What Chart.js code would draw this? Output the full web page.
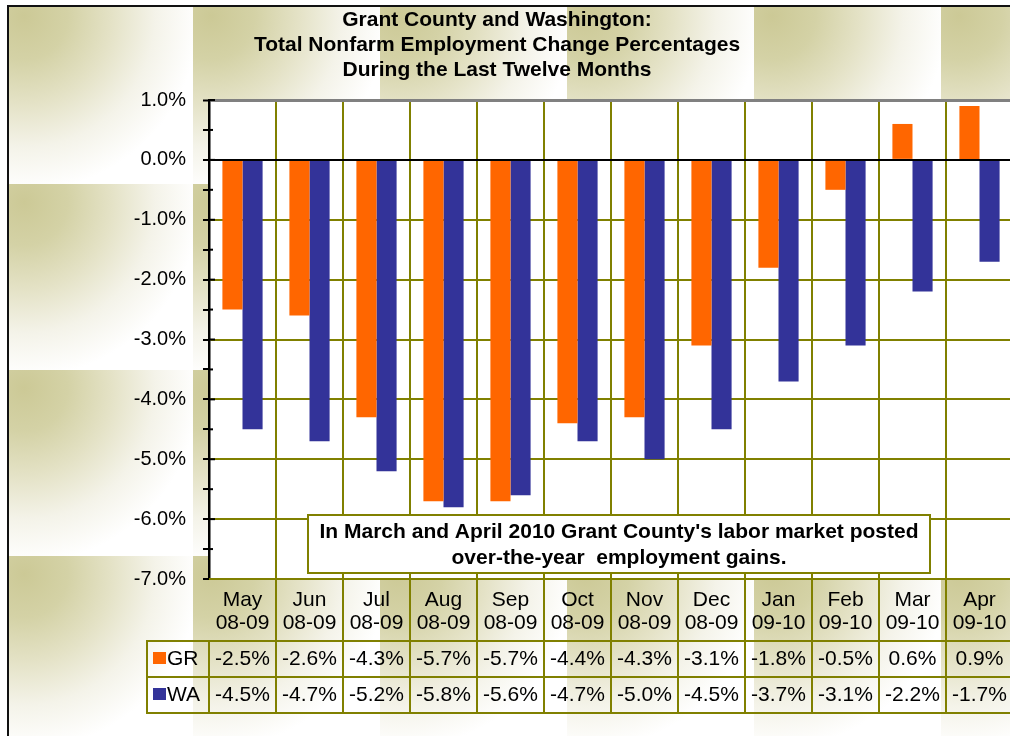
<!DOCTYPE html>
<html><head><meta charset="utf-8">
<script src="https://cdn.jsdelivr.net/npm/chart.js@4.4.1/dist/chart.umd.min.js"></script>
<style>
html,body{margin:0;padding:0;overflow:hidden;background:#fff;width:1010px;height:736px}
#wrap{position:absolute;left:0;top:0;width:1020px;height:736px}
</style></head><body>
<div id="wrap"><canvas id="c" width="1020" height="736"></canvas></div>
<script>
// ---- data ----
const categories = [['May','08-09'],['Jun','08-09'],['Jul','08-09'],['Aug','08-09'],['Sep','08-09'],['Oct','08-09'],['Nov','08-09'],['Dec','08-09'],['Jan','09-10'],['Feb','09-10'],['Mar','09-10'],['Apr','09-10']];
const seriesNames = ['GR','WA'];
const grValues = [-2.5,-2.6,-4.3,-5.7,-5.7,-4.4,-4.3,-3.1,-1.8,-0.5,0.6,0.9];
const waValues = [-4.5,-4.7,-5.2,-5.8,-5.6,-4.7,-5.0,-4.5,-3.7,-3.1,-2.2,-1.7];
const yMin = -7, yMax = 1, yStep = 0.5;
const titleLines = ['Grant County and Washington:','Total Nonfarm Employment Change Percentages','During the Last Twelve Months'];
const noteLines = ["In March and April 2010 Grant County's labor market posted","over-the-year  employment gains."];

// ---- style ----
const FONT = '"Liberation Sans", Arial, sans-serif';
const OLIVE = '#808000';
const GR_COLOR = '#ff6600';
const WA_COLOR = '#333399';
const fmt = v => v.toFixed(1) + '%';
const isMajor = v => Math.abs(v - Math.round(v)) < 1e-6;

const bgPlugin = {
  id: 'bg',
  beforeDraw(chart) {
    const {ctx, chartArea: a} = chart;
    ctx.save();
    ctx.fillStyle = '#fff';
    ctx.fillRect(0, 0, chart.width, chart.height);
    ctx.beginPath(); ctx.rect(8, 6, chart.width, chart.height); ctx.clip();
    const TW = 187, TH = 186, X0 = 6, Y0 = -2;
    for (let ty = Y0; ty < chart.height; ty += TH) {
      for (let tx = X0; tx < chart.width; tx += TW) {
        const g = ctx.createRadialGradient(tx + 18, ty + 18, 0, tx + 18, ty + 18, 175);
        g.addColorStop(0, '#ccc996');
        g.addColorStop(0.25, '#d4d2a6');
        g.addColorStop(0.5, '#e4e2c6');
        g.addColorStop(0.75, '#f4f3e9');
        g.addColorStop(1, '#ffffff');
        ctx.fillStyle = g;
        ctx.fillRect(tx, ty, TW, TH);
      }
    }
    ctx.fillStyle = '#fff';
    ctx.fillRect(a.left, a.top, a.right - a.left, a.bottom - a.top);
    ctx.restore();
    ctx.save();
    ctx.strokeStyle = '#111';
    ctx.lineWidth = 2;
    ctx.strokeRect(8, 6, chart.width + 20, chart.height + 20);
    ctx.restore();
  }
};

const overlayPlugin = {
  id: 'overlay',
  afterDraw(chart) {
    const {ctx, chartArea: a} = chart;
    const xs = chart.scales.x, ys = chart.scales.y;
    ctx.save();
    // inner halves of the crossing tick marks on the value axis
    ctx.strokeStyle = '#000'; ctx.lineWidth = 2;
    ys.ticks.forEach(t => {
      const py = ys.getPixelForValue(t.value);
      ctx.beginPath(); ctx.moveTo(a.left, py); ctx.lineTo(a.left + (isMajor(t.value) ? 6 : 4), py); ctx.stroke();
    });

    // title
    ctx.fillStyle = '#000';
    ctx.font = 'bold 21px ' + FONT;
    ctx.textAlign = 'center';
    ctx.textBaseline = 'middle';
    titleLines.forEach((t, i) => ctx.fillText(t, 497, 20 + i * 25));

    // annotation box
    const bx = 308, by = 515, bw = 622, bh = 58;
    ctx.fillStyle = '#fff';
    ctx.fillRect(bx, by, bw, bh);
    ctx.strokeStyle = OLIVE; ctx.lineWidth = 2;
    ctx.strokeRect(bx, by, bw, bh);
    ctx.fillStyle = '#000';
    ctx.font = 'bold 21px ' + FONT;
    noteLines.forEach((t, i) => ctx.fillText(t, bx + bw / 2, by + 17 + i * 26));

    // data table
    const n = categories.length;
    const cw = (xs.right - xs.left) / n;
    const top = a.bottom, hdrH = 62, rowH = 36, labelLeft = a.left - 62;
    const bottom = top + hdrH + 2 * rowH;
    ctx.strokeStyle = OLIVE; ctx.lineWidth = 2;
    const line = (x1, y1, x2, y2) => { ctx.beginPath(); ctx.moveTo(x1, y1); ctx.lineTo(x2, y2); ctx.stroke(); };
    line(a.left, top, xs.right, top);
    for (let r = 0; r <= 2; r++) { const y = top + hdrH + r * rowH; line(labelLeft - 1, y, xs.right, y); }
    for (let i = 0; i <= n; i++) { const xx = xs.left + i * cw; line(xx, i === 0 ? top + hdrH : top, xx, bottom); }
    line(labelLeft, top + hdrH, labelLeft, bottom);

    const rows = [
      {name: seriesNames[0], values: grValues, color: GR_COLOR},
      {name: seriesNames[1], values: waValues, color: WA_COLOR}
    ];
    ctx.font = '21px ' + FONT;
    rows.forEach((row, r) => {
      const yc = top + hdrH + r * rowH + rowH / 2;
      ctx.fillStyle = row.color;
      ctx.fillRect(labelLeft + 6, yc - 7, 13, 12);
      ctx.fillStyle = '#000';
      ctx.textAlign = 'left';
      ctx.fillText(row.name, labelLeft + 20, yc);
      ctx.textAlign = 'center';
      row.values.forEach((v, i) => ctx.fillText(fmt(v), xs.getPixelForValue(i), yc));
    });
    ctx.restore();
  }
};

new Chart(document.getElementById('c'), {
  type: 'bar',
  data: {
    labels: categories,
    datasets: [
      {label: seriesNames[0], data: grValues, backgroundColor: GR_COLOR, categoryPercentage: 0.6, barPercentage: 1},
      {label: seriesNames[1], data: waValues, backgroundColor: WA_COLOR, categoryPercentage: 0.6, barPercentage: 1}
    ]
  },
  options: {
    responsive: false,
    animation: false,
    devicePixelRatio: 1,
    layout: {padding: {top: 100, right: 7, left: 0, bottom: 0}},
    plugins: {legend: {display: false}, tooltip: {enabled: false}, title: {display: false}},
    scales: {
      x: {
        grid: {offset: true, color: c => c.index === 0 ? 'rgba(0,0,0,0)' : OLIVE, lineWidth: 2, drawTicks: false},
        border: {display: false},
        ticks: {autoSkip: false, maxRotation: 0, padding: 9.5, color: '#000', font: {family: FONT, size: 21, lineHeight: 23 / 21}},
        afterFit(s) { s.height = 157; }
      },
      y: {
        min: yMin, max: yMax,
        ticks: {
          stepSize: yStep, autoSkip: false, padding: 17, color: '#000',
          font: {family: FONT, size: 20},
          callback: v => isMajor(v) ? fmt(v) : ''
        },
        grid: {
          color: c => {
            const v = c.tick ? c.tick.value : 0;
            if (!isMajor(v)) return 'rgba(0,0,0,0)';
            if (v === yMax) return '#808080';
            if (v === 0) return '#000';
            return OLIVE;
          },
          lineWidth: c => (c.tick && c.tick.value === yMax) ? 3 : 2,
          tickLength: 6, tickColor: '#000', tickWidth: 2
        },
        border: {color: '#000', width: 2.5},
        afterFit(s) { s.width = 209; }
      }
    }
  },
  plugins: [bgPlugin, overlayPlugin]
});
</script>
</body></html>
